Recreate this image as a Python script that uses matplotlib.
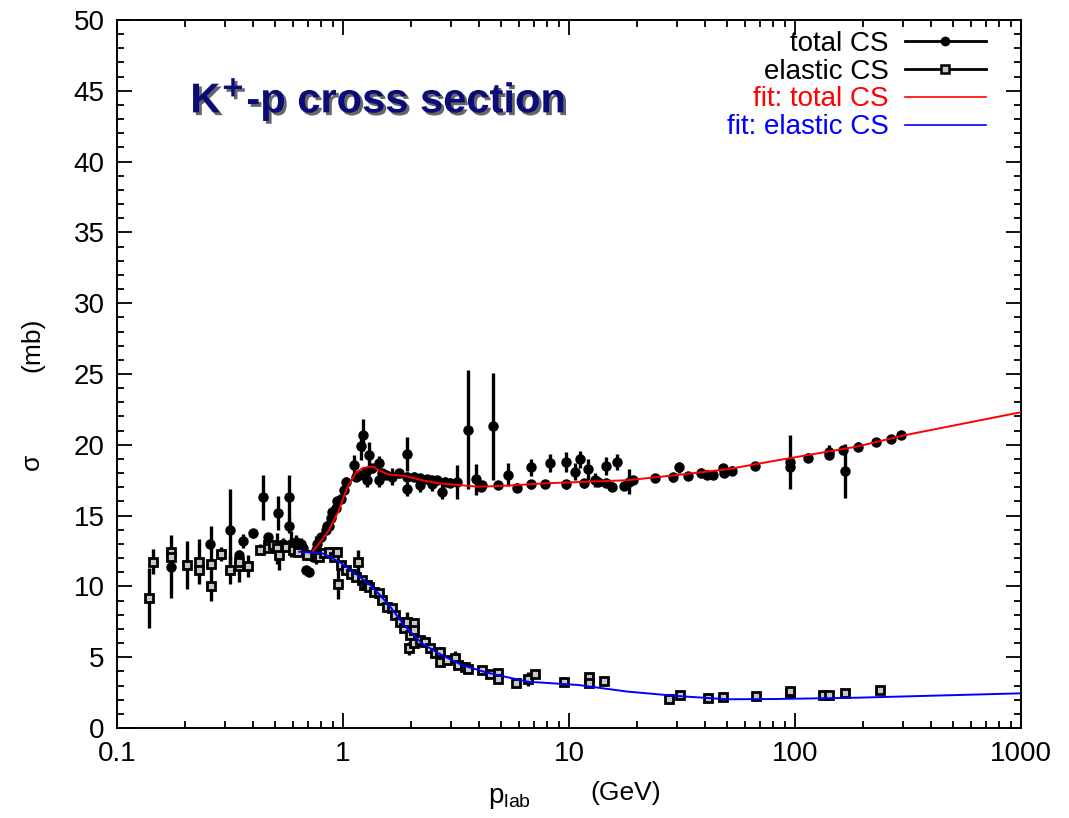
import matplotlib
matplotlib.use('Agg')
import matplotlib.pyplot as plt
import matplotlib.patheffects as pe
from matplotlib.lines import Line2D
from matplotlib.ticker import FixedLocator, LogLocator, MultipleLocator, NullFormatter

plt.rcParams['font.family'] = ['Liberation Sans', 'DejaVu Sans']

# total cross section: momentum (GeV), sigma (mb), error (mb)
tot_p = [0.173, 0.259, 0.316, 0.348, 0.360, 0.398, 0.441, 0.464, 0.514, 0.540,
         0.578, 0.578, 0.588, 0.619, 0.651, 0.662, 0.685, 0.708, 0.733, 0.758,
         0.770, 0.798, 0.839, 0.853, 0.868, 0.883, 0.897, 0.929, 0.944, 0.977,
         1.010, 1.028, 1.118, 1.137, 1.176, 1.197, 1.225, 1.259, 1.279, 1.302,
         1.346, 1.441, 1.441, 1.485, 1.542, 1.649, 1.765, 1.920, 1.920, 1.920,
         2.055, 2.199, 2.199, 2.351, 2.474, 2.474, 2.603, 2.738, 2.834, 2.981,
         3.188, 3.591, 3.882, 4.083, 4.109, 4.626, 4.867, 5.349, 5.860, 6.781,
         6.781, 7.816, 8.222, 9.672, 9.672, 10.60, 11.15, 11.65, 12.13, 12.98,
         13.42, 14.51, 14.51, 15.47, 16.33, 17.47, 18.51, 19.27, 24.09, 28.92,
         30.73, 33.68, 38.54, 40.96, 43.53, 48.17, 48.52, 52.78, 66.87, 95.35,
         95.35, 114.1, 140.8, 140.8, 162.7, 166.5, 190.8, 228.1, 265.6, 294.0]
tot_sig = [11.4, 13.0, 14.0, 12.2, 13.2, 13.75, 16.3, 13.5, 15.15, 13.0,
           16.3, 14.3, 13.0, 13.15, 13.0, 12.7, 11.16, 11.04, 12.1, 12.57,
           13.0, 13.5, 14.0, 14.3, 14.3, 14.8, 15.27, 15.57, 16.0, 16.2,
           16.8, 17.4, 18.6, 17.75, 17.9, 19.9, 20.7, 18.1, 17.5, 19.3,
           18.34, 18.7, 17.5, 18.0, 17.87, 17.75, 17.98, 19.35, 17.75, 16.85,
           17.75, 17.63, 17.16, 17.58, 17.5, 17.23, 17.5, 16.7, 17.4, 17.33,
           17.4, 21.05, 17.56, 17.05, 17.16, 21.3, 17.16, 17.9, 16.97, 18.4,
           17.2, 17.23, 18.7, 18.8, 17.2, 18.1, 18.97, 17.28, 18.27, 17.5,
           17.4, 18.5, 17.33, 17.05, 18.8, 17.1, 17.4, 17.5, 17.67, 17.7,
           18.4, 17.8, 18.03, 17.9, 17.87, 18.34, 18.03, 18.17, 18.52, 18.8,
           18.45, 19.1, 19.5, 19.3, 19.63, 18.17, 19.87, 20.2, 20.4, 20.7]
tot_err = [2.2, 0.3, 2.9, 0.3, 0.5, 0.3, 1.6, 0.3, 1.2, 0.4,
           1.6, 0.5, 0.9, 0.5, 0.4, 0.5, 0.2, 0.2, 0.3, 1.0,
           0.3, 0.3, 0.3, 0.3, 0.3, 0.3, 0.3, 0.3, 0.3, 0.3,
           0.3, 0.3, 0.7, 0.3, 0.3, 1.0, 1.15, 0.3, 0.5, 0.9,
           0.3, 0.5, 0.5, 0.3, 0.3, 0.6, 0.3, 1.2, 0.3, 0.5,
           0.3, 0.3, 0.5, 0.3, 0.3, 0.5, 0.3, 0.5, 0.3, 0.3,
           1.2, 4.2, 1.1, 0.3, 0.3, 3.8, 0.3, 0.8, 0.3, 0.6,
           0.3, 0.3, 0.65, 0.7, 0.3, 0.6, 0.6, 0.3, 0.75, 0.5,
           0.3, 0.65, 0.3, 0.3, 0.55, 0.3, 0.9, 0.3, 0.3, 0.3,
           0.4, 0.3, 0.3, 0.3, 0.3, 0.3, 0.3, 0.3, 0.3, 1.9,
           0.3, 0.3, 0.5, 0.3, 0.3, 1.9, 0.3, 0.2, 0.2, 0.2]

# elastic cross section
el_p = [0.138, 0.144, 0.173, 0.173, 0.203, 0.231, 0.231, 0.261, 0.261, 0.289,
        0.316, 0.348, 0.348, 0.379, 0.427, 0.464, 0.464, 0.488, 0.510, 0.520,
        0.559, 0.598, 0.629, 0.696, 0.784, 0.825, 0.868, 0.913, 0.944, 0.953,
        0.977, 1.028, 1.081, 1.137, 1.168, 1.216, 1.237, 1.279, 1.302, 1.369,
        1.441, 1.490, 1.567, 1.649, 1.707, 1.796, 1.857, 1.920, 1.953, 1.987,
        2.055, 2.055, 2.055, 2.199, 2.313, 2.434, 2.561, 2.694, 2.694, 2.881,
        3.137, 3.243, 3.471, 3.591, 4.138, 4.474, 4.867, 4.867, 5.825, 6.597,
        7.104, 9.506, 12.25, 12.25, 14.27, 27.77, 30.92, 41.25, 48.17, 67.14,
        95.35, 95.35, 132.8, 140.8, 166.5, 237.6]
el_sig = [9.17, 11.75, 12.45, 12.1, 11.5, 11.75, 11.16, 11.6, 10.0, 12.3,
          11.16, 11.44, 11.75, 11.44, 12.6, 12.9, 12.7, 12.9, 12.7, 12.2,
          12.8, 12.57, 12.45, 12.2, 12.1, 12.33, 12.45, 12.1, 12.45, 10.2,
          11.5, 11.16, 10.9, 10.68, 11.75, 10.45, 10.1, 10.1, 9.98, 9.63,
          9.51, 9.04, 8.57, 8.45, 7.98, 7.5, 7.04, 7.5, 5.63, 6.57,
          7.4, 6.92, 5.98, 6.21, 6.1, 5.63, 5.27, 5.39, 4.68, 4.8,
          4.92, 4.45, 4.33, 4.2, 4.1, 3.81, 3.86, 3.44, 3.15, 3.44,
          3.81, 3.27, 3.58, 3.2, 3.34, 2.03, 2.33, 2.14, 2.21, 2.26,
          2.5, 2.6, 2.33, 2.33, 2.45, 2.68]
el_err = [2.1, 0.9, 0.3, 0.3, 1.7, 1.6, 0.3, 2.65, 0.3, 0.5,
          1.0, 1.1, 0.3, 0.8, 0.4, 0.3, 0.3, 0.3, 1.1, 1.05,
          0.3, 0.3, 0.3, 0.3, 0.3, 0.3, 0.3, 0.3, 0.3, 1.1,
          0.3, 0.3, 0.3, 0.3, 0.8, 0.3, 0.3, 0.3, 0.3, 0.3,
          0.3, 0.3, 0.3, 0.3, 0.3, 0.3, 0.3, 0.7, 0.45, 0.3,
          0.3, 0.3, 0.3, 0.3, 0.3, 0.3, 0.3, 0.3, 0.4, 0.3,
          0.5, 0.3, 0.3, 0.3, 0.3, 0.3, 0.3, 0.3, 0.3, 0.5,
          0.3, 0.3, 0.3, 0.3, 0.3, 0.3, 0.3, 0.3, 0.3, 0.3,
          0.3, 0.3, 0.3, 0.3, 0.3, 0.3]

# fitted curves
fit_tot_p = [0.733, 0.80, 0.868, 0.96, 1.045, 1.138, 1.22, 1.302, 1.36, 1.44,
             1.595, 1.889, 2.236, 2.648, 3.24, 3.97, 4.87, 5.96, 7.82, 18.2,
             30.2, 50.2, 83.4, 187.7, 311.0, 1000.0]
fit_tot_sig = [12.45, 13.2, 14.0, 15.4, 17.0, 18.0, 18.35, 18.45, 18.45, 18.2,
               17.9, 17.8, 17.5, 17.28, 17.16, 17.04, 17.09, 17.16, 17.28, 17.5,
               17.87, 18.27, 18.9, 19.87, 20.7, 22.3]
fit_el_p = [0.64, 0.811, 0.96, 1.138, 1.346, 1.595, 1.889, 2.236, 2.648, 3.354,
            4.25, 5.57, 6.59, 10.96, 18.2, 30.2, 50.2, 83.4, 187.7, 1000.0]
fit_el_sig = [12.45, 12.33, 11.75, 10.9, 9.98, 8.69, 7.15, 5.98, 5.27, 4.45,
              3.95, 3.52, 3.27, 3.04, 2.57, 2.26, 2.03, 2.05, 2.14, 2.45]

xticks = [0.1, 1, 10, 100, 1000]
xtick_labels = ['0.1', '1', '10', '100', '1000']

fig = plt.figure(figsize=(10.69, 8.18), dpi=100)
ax = fig.add_axes([0.1095, 0.11, 0.8455, 0.8656])

ax.errorbar(tot_p, tot_sig, yerr=tot_err, fmt='o', color='black', ms=6.5,
            elinewidth=2.4, capsize=0, zorder=3)
ax.errorbar(el_p, el_sig, yerr=el_err, fmt='s', color='black', mfc='#c8c8c8',
            mec='black', mew=2.0, ms=5.5, elinewidth=2.4, capsize=0, zorder=3)
ax.plot(fit_tot_p, fit_tot_sig, color='red', lw=1.4, zorder=4)
ax.plot(fit_el_p, fit_el_sig, color='blue', lw=1.4, zorder=4)

ax.set_xscale('log')
ax.set_xlim(0.1, 1000)
ax.set_ylim(0, 50)
ax.xaxis.set_major_locator(FixedLocator(xticks))
ax.set_xticklabels(xtick_labels)
ax.xaxis.set_minor_locator(LogLocator(base=10, subs=range(2, 10)))
ax.xaxis.set_minor_formatter(NullFormatter())
ax.yaxis.set_major_locator(MultipleLocator(5))
ax.yaxis.set_minor_locator(MultipleLocator(1))
ax.tick_params(which='both', direction='in', top=True, right=True, width=1.3)
ax.tick_params(which='major', length=11, labelsize=20, pad=9)
ax.tick_params(which='minor', length=5)
for s in ax.spines.values():
    s.set_linewidth(1.4)

# legend: text right-aligned, sample to the right
handles = [Line2D([], [], color='black', lw=2, marker='o', ms=6),
           Line2D([], [], color='black', lw=2, marker='s', ms=5.5, mfc='#c8c8c8', mew=1.8),
           Line2D([], [], color='red', lw=1.2),
           Line2D([], [], color='blue', lw=1.2)]
labels = ['total CS', 'elastic CS', 'fit: total CS', 'fit: elastic CS']
ax.legend(handles, labels, loc='upper right', bbox_to_anchor=(0.961, 0.985),
          borderaxespad=0, borderpad=0,
          frameon=False, markerfirst=False, numpoints=1, fontsize=20,
          handlelength=2.9, handletextpad=0.6, labelspacing=0.07,
          labelcolor=['black', 'black', 'red', 'blue'])

ax.text(0.081, 0.869, r'K$^{\mathbf{+}}$-p cross section', transform=ax.transAxes,
        fontsize=30, fontweight='bold', color='#0c0c78', va='baseline',
        path_effects=[pe.SimplePatchShadow(offset=(2, -2), shadow_rgbFace='#555555', alpha=0.9),
                      pe.Normal()])

fig.text(0.030, 0.435, 'σ', rotation=90, fontsize=19, ha='center', va='center')
fig.text(0.030, 0.578, '(mb)', rotation=90, fontsize=19, ha='center', va='center')
fig.text(0.477, 0.018, r'p$_{\mathregular{lab}}$', fontsize=20, ha='center', va='baseline')
fig.text(0.585, 0.022, '(GeV)', fontsize=19, ha='center', va='baseline')

fig.savefig('out.png', dpi=100)
